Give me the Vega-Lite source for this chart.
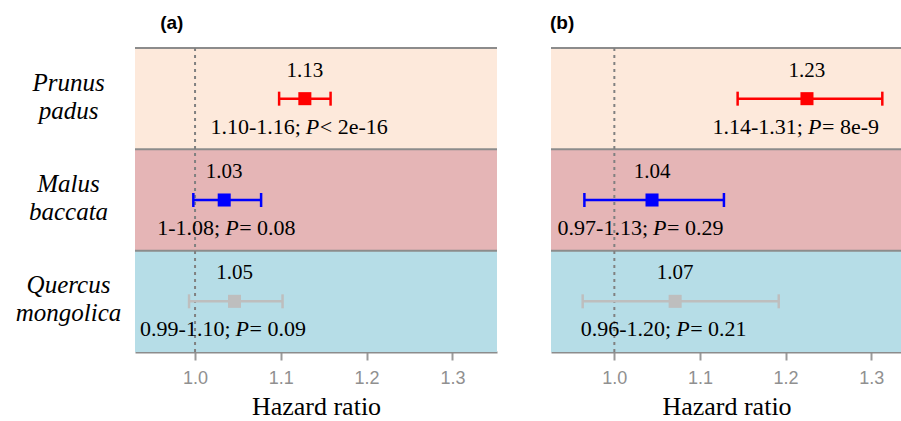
{
  "$schema": "https://vega.github.io/schema/vega-lite/v6.json",
  "background": "white",
  "padding": {"left": 15, "top": 14, "right": 0, "bottom": 0},
  "spacing": 52,
  "config": {
    "view": {"stroke": null},
    "axisY": {"domain": false, "ticks": false, "tickSize": 0, "grid": false, "labelPadding": 67, "labelAlign": "center", "labelBaseline": "middle", "labelOffset": -16, "labelFont": "Liberation Serif", "labelFontStyle": "italic", "labelFontSize": 25, "labelColor": "black", "labelLineHeight": 28, "labelLimit": 0, "labelExpr": "split(datum.label, ' ')"},
    "axisX": {"grid": false, "zindex": 1, "domainColor": "#8c8c8c", "domainWidth": 2, "tickColor": "#9a9a9a", "tickWidth": 2, "tickSize": 8, "labelFont": "Liberation Sans", "labelFontSize": 18, "labelColor": "#909090", "labelPadding": 9, "titleFont": "Liberation Serif", "titleFontSize": 26, "titleFontWeight": "normal", "titleColor": "black", "titlePadding": 6}
  },
  "datasets": {
    "a": [
      {"species": "Prunus padus", "hr": 1.128, "lo": 1.098, "hi": 1.158, "est": "1.13", "ci": "1.10-1.16;", "p": "\u00a0< 2e-16"},
      {"species": "Malus baccata", "hr": 1.034, "lo": 0.998, "hi": 1.077, "est": "1.03", "ci": "1-1.08;", "p": "= 0.08"},
      {"species": "Quercus mongolica", "hr": 1.046, "lo": 0.993, "hi": 1.102, "est": "1.05", "ci": "0.99-1.10;", "p": "= 0.09"}
    ],
    "b": [
      {"species": "Prunus padus", "hr": 1.225, "lo": 1.144, "hi": 1.313, "est": "1.23", "ci": "1.14-1.31;", "p": "= 8e-9"},
      {"species": "Malus baccata", "hr": 1.044, "lo": 0.965, "hi": 1.128, "est": "1.04", "ci": "0.97-1.13;", "p": "= 0.29"},
      {"species": "Quercus mongolica", "hr": 1.071, "lo": 0.963, "hi": 1.192, "est": "1.07", "ci": "0.96-1.20;", "p": "= 0.21"}
    ]
  },
  "hconcat": [
    {
      "width": 362,
      "height": 304,
      "title": {"text": "(a)", "anchor": "start", "dx": 145, "offset": 14, "fontSize": 19, "font": "Liberation Sans", "fontWeight": "bold", "color": "black"},
      "data": {"name": "a"},
      "layer": [
        {
          "mark": {"type": "rect"},
          "encoding": {
            "y": {"field": "species", "type": "nominal", "sort": null, "scale": {"domain": ["Prunus padus", "Malus baccata", "Quercus mongolica"], "paddingInner": 0, "paddingOuter": 0}, "axis": {"title": null}},
            "fill": {"field": "species", "type": "nominal", "scale": {"domain": ["Prunus padus", "Malus baccata", "Quercus mongolica"], "range": ["#FDE9DB", "#E5B5B6", "#B6DDE7"]}, "legend": null}
          }
        },
        {
          "mark": {"type": "rule", "color": "#8c8c8c", "strokeWidth": 2},
          "encoding": {
            "y": {"field": "species", "type": "nominal", "sort": null, "bandPosition": 0, "scale": {"domain": ["Prunus padus", "Malus baccata", "Quercus mongolica"], "paddingInner": 0, "paddingOuter": 0}, "axis": {"title": null}}
          }
        },
        {
          "data": {"values": [{}]},
          "mark": {"type": "rule", "color": "#808080", "strokeWidth": 2, "strokeDash": [3, 4]},
          "encoding": {
            "x": {"datum": 1, "type": "quantitative", "scale": {"domain": [0.93, 1.352], "nice": false, "zero": false}, "axis": {"title": "Hazard ratio", "values": [1, 1.1, 1.2, 1.3], "format": ".1f"}}
          }
        },
        {
          "mark": {"type": "rule", "strokeWidth": 2.5},
          "encoding": {
            "x": {"field": "lo", "type": "quantitative", "scale": {"domain": [0.93, 1.352], "nice": false, "zero": false}, "axis": {"title": "Hazard ratio", "values": [1, 1.1, 1.2, 1.3], "format": ".1f"}},
            "x2": {"field": "hi"},
            "y": {"field": "species", "type": "nominal", "sort": null, "scale": {"domain": ["Prunus padus", "Malus baccata", "Quercus mongolica"], "paddingInner": 0, "paddingOuter": 0}, "axis": {"title": null}},
            "color": {"field": "species", "type": "nominal", "scale": {"domain": ["Prunus padus", "Malus baccata", "Quercus mongolica"], "range": ["#FF0000", "#0000FF", "#BEBEBE"]}, "legend": null}
          }
        },
        {
          "mark": {"type": "tick", "orient": "vertical", "size": 14, "thickness": 2.5, "opacity": 1},
          "encoding": {
            "x": {"field": "lo", "type": "quantitative", "scale": {"domain": [0.93, 1.352], "nice": false, "zero": false}, "axis": {"title": "Hazard ratio", "values": [1, 1.1, 1.2, 1.3], "format": ".1f"}},
            "y": {"field": "species", "type": "nominal", "sort": null, "scale": {"domain": ["Prunus padus", "Malus baccata", "Quercus mongolica"], "paddingInner": 0, "paddingOuter": 0}, "axis": {"title": null}},
            "color": {"field": "species", "type": "nominal", "scale": {"domain": ["Prunus padus", "Malus baccata", "Quercus mongolica"], "range": ["#FF0000", "#0000FF", "#BEBEBE"]}, "legend": null}
          }
        },
        {
          "mark": {"type": "tick", "orient": "vertical", "size": 14, "thickness": 2.5, "opacity": 1},
          "encoding": {
            "x": {"field": "hi", "type": "quantitative", "scale": {"domain": [0.93, 1.352], "nice": false, "zero": false}, "axis": {"title": "Hazard ratio", "values": [1, 1.1, 1.2, 1.3], "format": ".1f"}},
            "y": {"field": "species", "type": "nominal", "sort": null, "scale": {"domain": ["Prunus padus", "Malus baccata", "Quercus mongolica"], "paddingInner": 0, "paddingOuter": 0}, "axis": {"title": null}},
            "color": {"field": "species", "type": "nominal", "scale": {"domain": ["Prunus padus", "Malus baccata", "Quercus mongolica"], "range": ["#FF0000", "#0000FF", "#BEBEBE"]}, "legend": null}
          }
        },
        {
          "mark": {"type": "square", "size": 170, "filled": true, "opacity": 1},
          "encoding": {
            "x": {"field": "hr", "type": "quantitative", "scale": {"domain": [0.93, 1.352], "nice": false, "zero": false}, "axis": {"title": "Hazard ratio", "values": [1, 1.1, 1.2, 1.3], "format": ".1f"}},
            "y": {"field": "species", "type": "nominal", "sort": null, "scale": {"domain": ["Prunus padus", "Malus baccata", "Quercus mongolica"], "paddingInner": 0, "paddingOuter": 0}, "axis": {"title": null}},
            "color": {"field": "species", "type": "nominal", "scale": {"domain": ["Prunus padus", "Malus baccata", "Quercus mongolica"], "range": ["#FF0000", "#0000FF", "#BEBEBE"]}, "legend": null}
          }
        },
        {
          "mark": {"type": "text", "font": "Liberation Serif", "fontSize": 21, "dy": -22, "baseline": "alphabetic", "align": "center", "color": "black"},
          "encoding": {
            "x": {"field": "hr", "type": "quantitative", "scale": {"domain": [0.93, 1.352], "nice": false, "zero": false}, "axis": {"title": "Hazard ratio", "values": [1, 1.1, 1.2, 1.3], "format": ".1f"}},
            "y": {"field": "species", "type": "nominal", "sort": null, "scale": {"domain": ["Prunus padus", "Malus baccata", "Quercus mongolica"], "paddingInner": 0, "paddingOuter": 0}, "axis": {"title": null}},
            "text": {"field": "est"}
          }
        },
        {
          "mark": {"type": "text", "font": "Liberation Serif", "fontSize": 22, "dy": 35, "dx": -4, "baseline": "alphabetic", "align": "right", "color": "black"},
          "encoding": {
            "x": {"field": "hr", "type": "quantitative", "scale": {"domain": [0.93, 1.352], "nice": false, "zero": false}, "axis": {"title": "Hazard ratio", "values": [1, 1.1, 1.2, 1.3], "format": ".1f"}},
            "y": {"field": "species", "type": "nominal", "sort": null, "scale": {"domain": ["Prunus padus", "Malus baccata", "Quercus mongolica"], "paddingInner": 0, "paddingOuter": 0}, "axis": {"title": null}},
            "text": {"field": "ci"}
          }
        },
        {
          "mark": {"type": "text", "text": "P", "font": "Liberation Serif", "fontStyle": "italic", "fontSize": 22, "dy": 35, "dx": 1, "baseline": "alphabetic", "align": "left", "color": "black"},
          "encoding": {
            "x": {"field": "hr", "type": "quantitative", "scale": {"domain": [0.93, 1.352], "nice": false, "zero": false}, "axis": {"title": "Hazard ratio", "values": [1, 1.1, 1.2, 1.3], "format": ".1f"}},
            "y": {"field": "species", "type": "nominal", "sort": null, "scale": {"domain": ["Prunus padus", "Malus baccata", "Quercus mongolica"], "paddingInner": 0, "paddingOuter": 0}, "axis": {"title": null}}
          }
        },
        {
          "mark": {"type": "text", "font": "Liberation Serif", "fontSize": 22, "dy": 35, "dx": 15, "baseline": "alphabetic", "align": "left", "color": "black"},
          "encoding": {
            "x": {"field": "hr", "type": "quantitative", "scale": {"domain": [0.93, 1.352], "nice": false, "zero": false}, "axis": {"title": "Hazard ratio", "values": [1, 1.1, 1.2, 1.3], "format": ".1f"}},
            "y": {"field": "species", "type": "nominal", "sort": null, "scale": {"domain": ["Prunus padus", "Malus baccata", "Quercus mongolica"], "paddingInner": 0, "paddingOuter": 0}, "axis": {"title": null}},
            "text": {"field": "p"}
          }
        }
      ]
    },
    {
      "width": 351,
      "height": 304,
      "title": {"text": "(b)", "anchor": "start", "dx": 0, "offset": 14, "fontSize": 19, "font": "Liberation Sans", "fontWeight": "bold", "color": "black"},
      "data": {"name": "b"},
      "layer": [
        {
          "mark": {"type": "rect"},
          "encoding": {
            "y": {"field": "species", "type": "nominal", "sort": null, "scale": {"domain": ["Prunus padus", "Malus baccata", "Quercus mongolica"], "paddingInner": 0, "paddingOuter": 0}, "axis": null},
            "fill": {"field": "species", "type": "nominal", "scale": {"domain": ["Prunus padus", "Malus baccata", "Quercus mongolica"], "range": ["#FDE9DB", "#E5B5B6", "#B6DDE7"]}, "legend": null}
          }
        },
        {
          "mark": {"type": "rule", "color": "#8c8c8c", "strokeWidth": 2},
          "encoding": {
            "y": {"field": "species", "type": "nominal", "sort": null, "bandPosition": 0, "scale": {"domain": ["Prunus padus", "Malus baccata", "Quercus mongolica"], "paddingInner": 0, "paddingOuter": 0}, "axis": null}
          }
        },
        {
          "data": {"values": [{}]},
          "mark": {"type": "rule", "color": "#808080", "strokeWidth": 2, "strokeDash": [3, 4]},
          "encoding": {
            "x": {"datum": 1, "type": "quantitative", "scale": {"domain": [0.926, 1.336], "nice": false, "zero": false}, "axis": {"title": "Hazard ratio", "values": [1, 1.1, 1.2, 1.3], "format": ".1f"}}
          }
        },
        {
          "mark": {"type": "rule", "strokeWidth": 2.5},
          "encoding": {
            "x": {"field": "lo", "type": "quantitative", "scale": {"domain": [0.926, 1.336], "nice": false, "zero": false}, "axis": {"title": "Hazard ratio", "values": [1, 1.1, 1.2, 1.3], "format": ".1f"}},
            "x2": {"field": "hi"},
            "y": {"field": "species", "type": "nominal", "sort": null, "scale": {"domain": ["Prunus padus", "Malus baccata", "Quercus mongolica"], "paddingInner": 0, "paddingOuter": 0}, "axis": null},
            "color": {"field": "species", "type": "nominal", "scale": {"domain": ["Prunus padus", "Malus baccata", "Quercus mongolica"], "range": ["#FF0000", "#0000FF", "#BEBEBE"]}, "legend": null}
          }
        },
        {
          "mark": {"type": "tick", "orient": "vertical", "size": 14, "thickness": 2.5, "opacity": 1},
          "encoding": {
            "x": {"field": "lo", "type": "quantitative", "scale": {"domain": [0.926, 1.336], "nice": false, "zero": false}, "axis": {"title": "Hazard ratio", "values": [1, 1.1, 1.2, 1.3], "format": ".1f"}},
            "y": {"field": "species", "type": "nominal", "sort": null, "scale": {"domain": ["Prunus padus", "Malus baccata", "Quercus mongolica"], "paddingInner": 0, "paddingOuter": 0}, "axis": null},
            "color": {"field": "species", "type": "nominal", "scale": {"domain": ["Prunus padus", "Malus baccata", "Quercus mongolica"], "range": ["#FF0000", "#0000FF", "#BEBEBE"]}, "legend": null}
          }
        },
        {
          "mark": {"type": "tick", "orient": "vertical", "size": 14, "thickness": 2.5, "opacity": 1},
          "encoding": {
            "x": {"field": "hi", "type": "quantitative", "scale": {"domain": [0.926, 1.336], "nice": false, "zero": false}, "axis": {"title": "Hazard ratio", "values": [1, 1.1, 1.2, 1.3], "format": ".1f"}},
            "y": {"field": "species", "type": "nominal", "sort": null, "scale": {"domain": ["Prunus padus", "Malus baccata", "Quercus mongolica"], "paddingInner": 0, "paddingOuter": 0}, "axis": null},
            "color": {"field": "species", "type": "nominal", "scale": {"domain": ["Prunus padus", "Malus baccata", "Quercus mongolica"], "range": ["#FF0000", "#0000FF", "#BEBEBE"]}, "legend": null}
          }
        },
        {
          "mark": {"type": "square", "size": 170, "filled": true, "opacity": 1},
          "encoding": {
            "x": {"field": "hr", "type": "quantitative", "scale": {"domain": [0.926, 1.336], "nice": false, "zero": false}, "axis": {"title": "Hazard ratio", "values": [1, 1.1, 1.2, 1.3], "format": ".1f"}},
            "y": {"field": "species", "type": "nominal", "sort": null, "scale": {"domain": ["Prunus padus", "Malus baccata", "Quercus mongolica"], "paddingInner": 0, "paddingOuter": 0}, "axis": null},
            "color": {"field": "species", "type": "nominal", "scale": {"domain": ["Prunus padus", "Malus baccata", "Quercus mongolica"], "range": ["#FF0000", "#0000FF", "#BEBEBE"]}, "legend": null}
          }
        },
        {
          "mark": {"type": "text", "font": "Liberation Serif", "fontSize": 21, "dy": -22, "baseline": "alphabetic", "align": "center", "color": "black"},
          "encoding": {
            "x": {"field": "hr", "type": "quantitative", "scale": {"domain": [0.926, 1.336], "nice": false, "zero": false}, "axis": {"title": "Hazard ratio", "values": [1, 1.1, 1.2, 1.3], "format": ".1f"}},
            "y": {"field": "species", "type": "nominal", "sort": null, "scale": {"domain": ["Prunus padus", "Malus baccata", "Quercus mongolica"], "paddingInner": 0, "paddingOuter": 0}, "axis": null},
            "text": {"field": "est"}
          }
        },
        {
          "mark": {"type": "text", "font": "Liberation Serif", "fontSize": 22, "dy": 35, "dx": -4, "baseline": "alphabetic", "align": "right", "color": "black"},
          "encoding": {
            "x": {"field": "hr", "type": "quantitative", "scale": {"domain": [0.926, 1.336], "nice": false, "zero": false}, "axis": {"title": "Hazard ratio", "values": [1, 1.1, 1.2, 1.3], "format": ".1f"}},
            "y": {"field": "species", "type": "nominal", "sort": null, "scale": {"domain": ["Prunus padus", "Malus baccata", "Quercus mongolica"], "paddingInner": 0, "paddingOuter": 0}, "axis": null},
            "text": {"field": "ci"}
          }
        },
        {
          "mark": {"type": "text", "text": "P", "font": "Liberation Serif", "fontStyle": "italic", "fontSize": 22, "dy": 35, "dx": 1, "baseline": "alphabetic", "align": "left", "color": "black"},
          "encoding": {
            "x": {"field": "hr", "type": "quantitative", "scale": {"domain": [0.926, 1.336], "nice": false, "zero": false}, "axis": {"title": "Hazard ratio", "values": [1, 1.1, 1.2, 1.3], "format": ".1f"}},
            "y": {"field": "species", "type": "nominal", "sort": null, "scale": {"domain": ["Prunus padus", "Malus baccata", "Quercus mongolica"], "paddingInner": 0, "paddingOuter": 0}, "axis": null}
          }
        },
        {
          "mark": {"type": "text", "font": "Liberation Serif", "fontSize": 22, "dy": 35, "dx": 15, "baseline": "alphabetic", "align": "left", "color": "black"},
          "encoding": {
            "x": {"field": "hr", "type": "quantitative", "scale": {"domain": [0.926, 1.336], "nice": false, "zero": false}, "axis": {"title": "Hazard ratio", "values": [1, 1.1, 1.2, 1.3], "format": ".1f"}},
            "y": {"field": "species", "type": "nominal", "sort": null, "scale": {"domain": ["Prunus padus", "Malus baccata", "Quercus mongolica"], "paddingInner": 0, "paddingOuter": 0}, "axis": null},
            "text": {"field": "p"}
          }
        }
      ]
    }
  ]
}
